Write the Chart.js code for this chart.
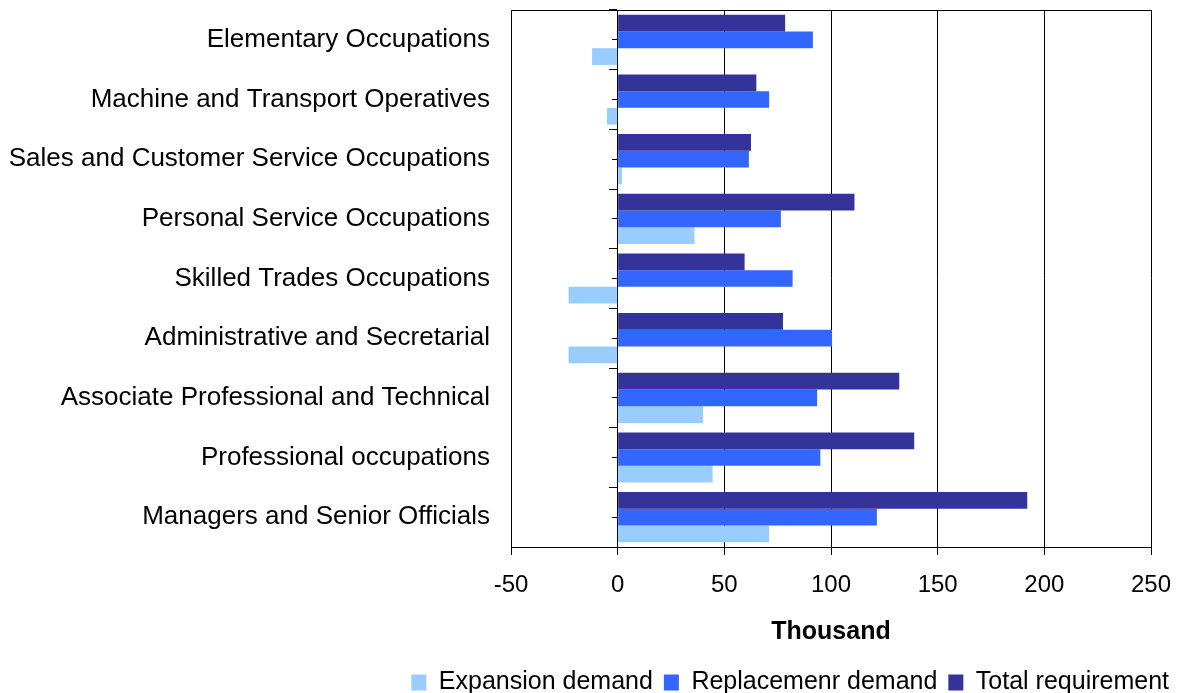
<!DOCTYPE html>
<html>
<head>
<meta charset="utf-8">
<script src="https://cdn.jsdelivr.net/npm/chart.js@4/dist/chart.umd.min.js"></script>
<style>
  html, body { margin: 0; padding: 0; background: #fff; }
  #wrap { width: 1180px; height: 693px; }
</style>
</head>
<body>
<div id="wrap"><canvas id="c" width="1180" height="693"></canvas></div>
<script>
const categories = [
  "Elementary Occupations",
  "Machine and Transport Operatives",
  "Sales and Customer Service Occupations",
  "Personal Service Occupations",
  "Skilled Trades Occupations",
  "Administrative and Secretarial",
  "Associate Professional and Technical",
  "Professional occupations",
  "Managers and Senior Officials"
];
const expansionDemand   = [-12, -5, 2, 36, -23, -23, 40, 44.5, 71];
const replacementDemand = [91.5, 71, 61.5, 76.5, 82, 100.5, 93.5, 95, 121.5];
const totalRequirement  = [78.5, 65, 62.5, 111, 59.5, 77.5, 132, 139, 192];
const xTicks = [-50, 0, 50, 100, 150, 200, 250];
const seriesNames = ["Expansion demand", "Replacemenr demand", "Total requirement"];
const axisTitle = "Thousand";

const FONT = "'Liberation Sans', Arial, sans-serif";
Chart.defaults.font.family = FONT;
Chart.defaults.color = '#000';

function zeroPad(s) { s.paddingTop = 0; s.paddingBottom = 0; s.paddingLeft = 0; }

new Chart(document.getElementById('c'), {
  type: 'bar',
  data: {
    labels: categories,
    datasets: [
      { label: seriesNames[2], data: totalRequirement,  backgroundColor: '#333399', borderWidth: 0 },
      { label: seriesNames[1], data: replacementDemand, backgroundColor: '#3366FF', borderWidth: 0 },
      { label: seriesNames[0], data: expansionDemand,   backgroundColor: '#99CCFF', borderWidth: 0 }
    ]
  },
  options: {
    indexAxis: 'y',
    responsive: false,
    animation: false,
    devicePixelRatio: 1,
    categoryPercentage: 0.84,
    barPercentage: 1.0,
    layout: { padding: { top: 10, right: 0, left: 0, bottom: -12 } },
    plugins: {
      tooltip: { enabled: false },
      legend: {
        position: 'bottom',
        align: 'end',
        labels: {
          font: { size: 25, family: FONT },
          color: '#000',
          boxWidth: 15,
          boxHeight: 16,
          padding: 11,
          sort: (a, b) => b.datasetIndex - a.datasetIndex
        }
      }
    },
    scales: {
      x: {
        type: 'linear',
        position: 'bottom',
        min: xTicks[0],
        max: xTicks[xTicks.length - 1],
        afterBuildTicks: (s) => { s.ticks = xTicks.map(v => ({ value: v })); },
        ticks: { font: { size: 24, family: FONT }, color: '#000', padding: 16 },
        grid: { color: '#000', lineWidth: 1, drawTicks: true, tickLength: 8 },
        border: { display: true, color: '#000', width: 1 },
        title: { display: true, text: axisTitle, font: { size: 25, weight: 'bold', family: FONT }, color: '#000', padding: { top: 0, bottom: 12 } },
        afterFit: (s) => { s.height = 112; s.paddingLeft = 0; s.paddingRight = 29; }
      },
      x2: {
        type: 'linear',
        position: 'top',
        min: xTicks[0],
        max: xTicks[xTicks.length - 1],
        ticks: { display: false },
        grid: { display: false, drawTicks: false },
        border: { display: true, color: '#000', width: 1 },
        afterFit: (s) => { s.height = 0; s.paddingLeft = 0; s.paddingRight = 0; }
      },
      y: {
        type: 'category',
        position: 'left',
        ticks: { font: { size: 26, family: FONT }, color: '#000', padding: 21, autoSkip: false },
        grid: { display: false, drawTicks: false, tickLength: 0 },
        border: { display: true, color: '#000', width: 1 },
        afterFit: (s) => { s.width = 511; zeroPad(s); }
      },
      y2: {
        type: 'category',
        labels: categories,
        offset: true,
        position: { x: 0 },
        ticks: { display: false },
        grid: { display: true, offset: true, drawOnChartArea: false, drawTicks: true, tickLength: 8, color: '#000', lineWidth: 1 },
        border: { display: true, color: '#000', width: 1 },
        afterFit: (s) => { zeroPad(s); }
      },
      y3: {
        type: 'category',
        labels: categories,
        offset: true,
        position: { x: 0 },
        ticks: { display: false },
        grid: { display: true, offset: false, drawOnChartArea: false, drawTicks: true, tickLength: 6, color: '#000', lineWidth: 1 },
        border: { display: false },
        afterFit: (s) => { zeroPad(s); }
      }
    }
  }
});
</script>
</body>
</html>
